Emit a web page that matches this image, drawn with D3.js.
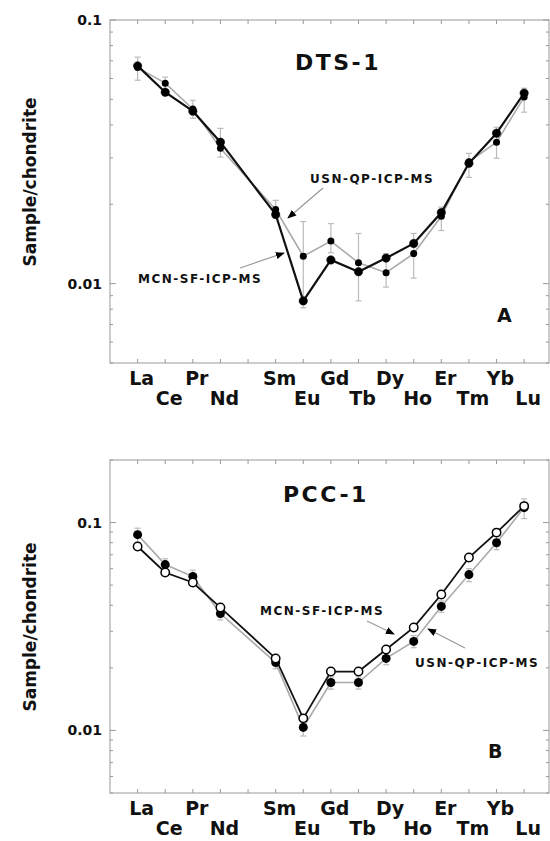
<!DOCTYPE html>
<html lang="en">
<head>
    <meta charset="utf-8" />
    <title>REE patterns DTS-1 / PCC-1</title>
    <script src="https://d3js.org/d3.v7.min.js"></script>
    <style>
        body { margin: 0; background: #fff; }
        text { font-family: "DejaVu Sans", sans-serif; font-weight: bold; fill: #111; }
    </style>
</head>
<body>
    <script>
        var w = 550;
        var h = 841;

        // rare earth elements and their atomic numbers (Pm left out, leaves a gap)
        var elements = ["La", "Ce", "Pr", "Nd", "Sm", "Eu", "Gd", "Tb", "Dy", "Ho", "Er", "Tm", "Yb", "Lu"];
        var atomicNumber = [57, 58, 59, 60, 62, 63, 64, 65, 66, 67, 68, 69, 70, 71];

        // DTS-1 (panel A)
        var dtsMCN = [0.067, 0.0532, 0.0451, 0.0344, 0.0183, 0.0086, 0.0123, 0.0111, 0.0125, 0.0142, 0.0186, 0.0286, 0.0372, 0.0528];
        var dtsUSN = [0.066, 0.0576, 0.046, 0.0326, 0.0191, 0.0127, 0.0145, 0.0120, 0.0110, 0.0130, 0.0180, 0.0290, 0.0344, 0.0510];
        var dtsUSNLow = [0.0591, 0.0528, 0.0424, 0.0302, 0.0177, 0.0081, 0.0131, 0.0086, 0.0097, 0.0105, 0.0159, 0.0253, 0.0299, 0.0447];
        var dtsUSNHigh = [0.0723, 0.0607, 0.0496, 0.0388, 0.0207, 0.0172, 0.0169, 0.0155, 0.0130, 0.0155, 0.0195, 0.0312, 0.0392, 0.0551];

        // PCC-1 (panel B)
        var pccMCN = [0.0767, 0.0575, 0.0515, 0.039, 0.0222, 0.01143, 0.0192, 0.0192, 0.0245, 0.0313, 0.0451, 0.0679, 0.0895, 0.120];
        var pccUSN = [0.0875, 0.0628, 0.055, 0.0365, 0.0212, 0.01034, 0.0170, 0.0170, 0.0222, 0.0268, 0.0395, 0.0562, 0.080, 0.118];
        var pccUSNLow = [0.080, 0.058, 0.051, 0.034, 0.0198, 0.0094, 0.0158, 0.0158, 0.0207, 0.025, 0.037, 0.052, 0.074, 0.1045];
        var pccUSNHigh = [0.094, 0.067, 0.059, 0.039, 0.0226, 0.0112, 0.0181, 0.0181, 0.0236, 0.0286, 0.042, 0.060, 0.086, 0.130];

        var yTickLabels = ["0.01", "0.1"];

        var svg = d3.select("body")
            .append("svg")
            .attr("width", w)
            .attr("height", h);

        // black arrow head for the leader lines
        svg.append("defs").append("marker")
            .attr("id", "arr")
            .attr("viewBox", "0 0 10 10")
            .attr("refX", 9).attr("refY", 5)
            .attr("markerWidth", 9).attr("markerHeight", 9)
            .attr("markerUnits", "userSpaceOnUse")
            .attr("orient", "auto")
            .append("path")
            .attr("d", "M0,1 L10,5 L0,9 Z")
            .attr("fill", "#000");

        var xScale = d3.scaleLinear()
            .domain([56, 71.9])
            .range([110, 549]);

        var panels = [
            {
                title: "DTS-1", letter: "A", top: 20, bottom: 363, domain: [0.005, 0.1],
                black: dtsMCN, grey: dtsUSN, low: dtsUSNLow, high: dtsUSNHigh, openMarks: false,
                titleX: 295, titleY: 70, letterX: 497, letterY: 322, yLabelY: 182,
                notes: [
                    { text: "USN-QP-ICP-MS", x: 310, y: 183, from: [323, 188], to: [288, 218] },
                    { text: "MCN-SF-ICP-MS", x: 138, y: 283, from: [240, 268], to: [284, 253] }
                ]
            },
            {
                title: "PCC-1", letter: "B", top: 460, bottom: 793, domain: [0.005, 0.2],
                black: pccMCN, grey: pccUSN, low: pccUSNLow, high: pccUSNHigh, openMarks: true,
                titleX: 283, titleY: 502, letterX: 488, letterY: 758, yLabelY: 627,
                notes: [
                    { text: "MCN-SF-ICP-MS", x: 260, y: 615, from: [367, 621], to: [394, 634] },
                    { text: "USN-QP-ICP-MS", x: 415, y: 667, from: [465, 648], to: [428, 629] }
                ]
            }
        ];

        panels.forEach(function (p) {
            var g = svg.append("g");

            var yScale = d3.scaleLog()
                .domain(p.domain)
                .range([p.bottom, p.top]);

            // log ticks 1..9 per decade inside the domain
            var yTicks = yScale.ticks(20).filter(function (t) {
                return t >= p.domain[0] - 1e-9 && t <= p.domain[1] + 1e-9;
            });

            // frame
            g.append("rect")
                .attr("x", xScale.range()[0])
                .attr("y", p.top)
                .attr("width", xScale.range()[1] - xScale.range()[0])
                .attr("height", p.bottom - p.top)
                .attr("fill", "none")
                .attr("stroke", "#aaa")
                .attr("stroke-width", 1.2);

            // y ticks on both sides, pointing inward
            var isMajor = function (t) {
                var l = Math.log10(t);
                return Math.abs(l - Math.round(l)) < 1e-6;
            };
            g.append("g").selectAll("line")
                .data(yTicks)
                .enter()
                .append("line")
                .attr("x1", xScale.range()[0])
                .attr("x2", function (d) { return xScale.range()[0] + (isMajor(d) ? 6 : 3); })
                .attr("y1", function (d) { return yScale(d); })
                .attr("y2", function (d) { return yScale(d); })
                .attr("stroke", "#999");
            g.append("g").selectAll("line")
                .data(yTicks)
                .enter()
                .append("line")
                .attr("x1", xScale.range()[1])
                .attr("x2", function (d) { return xScale.range()[1] - (isMajor(d) ? 6 : 3); })
                .attr("y1", function (d) { return yScale(d); })
                .attr("y2", function (d) { return yScale(d); })
                .attr("stroke", "#999");

            // x ticks, top and bottom (Pm position included)
            var xTicks = d3.range(57, 72);
            g.append("g").selectAll("line")
                .data(xTicks)
                .enter()
                .append("line")
                .attr("x1", function (d) { return xScale(d); })
                .attr("x2", function (d) { return xScale(d); })
                .attr("y1", p.top)
                .attr("y2", p.top + 4)
                .attr("stroke", "#999");
            g.append("g").selectAll("line")
                .data(xTicks)
                .enter()
                .append("line")
                .attr("x1", function (d) { return xScale(d); })
                .attr("x2", function (d) { return xScale(d); })
                .attr("y1", p.bottom)
                .attr("y2", p.bottom - 4)
                .attr("stroke", "#999");

            // y tick labels
            g.selectAll("text.ylab")
                .data(yTickLabels)
                .enter()
                .append("text")
                .attr("class", "ylab")
                .attr("x", 102)
                .attr("y", function (d) { return yScale(+d); })
                .attr("dy", "0.36em")
                .attr("text-anchor", "end")
                .attr("font-size", "14px")
                .text(function (d) { return d; });

            // element labels, two staggered rows
            g.selectAll("text.el")
                .data(elements)
                .enter()
                .append("text")
                .attr("class", "el")
                .attr("x", function (d, i) { return xScale(atomicNumber[i]) + 4; })
                .attr("y", function (d, i) { return p.bottom + (i % 2 === 0 ? 22 : 42); })
                .attr("text-anchor", "middle")
                .attr("font-size", "19px")
                .text(function (d) { return d; });

            // y axis title
            g.append("text")
                .attr("transform", "translate(36," + p.yLabelY + ") rotate(-90)")
                .attr("text-anchor", "middle")
                .attr("font-size", "17px")
                .text("Sample/chondrite");

            g.append("text")
                .attr("x", p.titleX)
                .attr("y", p.titleY)
                .attr("font-size", "22px")
                .attr("letter-spacing", "2.5px")
                .text(p.title);

            g.append("text")
                .attr("x", p.letterX)
                .attr("y", p.letterY)
                .attr("font-size", "19px")
                .text(p.letter);

            // error bars of the USN series
            var eb = g.append("g").attr("stroke", "#bbb").attr("stroke-width", 1.2);
            atomicNumber.forEach(function (z, i) {
                var x = xScale(z);
                eb.append("line")
                    .attr("x1", x).attr("x2", x)
                    .attr("y1", yScale(p.low[i])).attr("y2", yScale(p.high[i]));
                eb.append("line")
                    .attr("x1", x - 3).attr("x2", x + 3)
                    .attr("y1", yScale(p.low[i])).attr("y2", yScale(p.low[i]));
                eb.append("line")
                    .attr("x1", x - 3).attr("x2", x + 3)
                    .attr("y1", yScale(p.high[i])).attr("y2", yScale(p.high[i]));
            });

            var line = d3.line()
                .x(function (d, i) { return xScale(atomicNumber[i]); })
                .y(function (d) { return yScale(d); });

            g.append("path")
                .datum(p.grey)
                .attr("d", line)
                .attr("fill", "none")
                .attr("stroke", "#aaa")
                .attr("stroke-width", 1.6);

            g.append("path")
                .datum(p.black)
                .attr("d", line)
                .attr("fill", "none")
                .attr("stroke", "#111")
                .attr("stroke-width", p.openMarks ? 1.8 : 2.2);

            // markers
            g.append("g").selectAll("circle")
                .data(p.grey)
                .enter()
                .append("circle")
                .attr("cx", function (d, i) { return xScale(atomicNumber[i]); })
                .attr("cy", function (d) { return yScale(d); })
                .attr("r", p.openMarks ? 4.5 : 3.5)
                .attr("fill", "#000");

            g.append("g").selectAll("circle")
                .data(p.black)
                .enter()
                .append("circle")
                .attr("cx", function (d, i) { return xScale(atomicNumber[i]); })
                .attr("cy", function (d) { return yScale(d); })
                .attr("r", 4.2)
                .attr("fill", p.openMarks ? "#fff" : "#000")
                .attr("stroke", "#000")
                .attr("stroke-width", p.openMarks ? 1.5 : 0.5);

            // method labels with leader arrows
            p.notes.forEach(function (n) {
                g.append("line")
                    .attr("x1", n.from[0]).attr("y1", n.from[1])
                    .attr("x2", n.to[0]).attr("y2", n.to[1])
                    .attr("stroke", "#999")
                    .attr("stroke-width", 1.2)
                    .attr("marker-end", "url(#arr)");
                g.append("text")
                    .attr("x", n.x)
                    .attr("y", n.y)
                    .attr("font-size", "12px")
                    .attr("letter-spacing", "1.5px")
                    .text(n.text);
            });
        });
    </script>
</body>
</html>
